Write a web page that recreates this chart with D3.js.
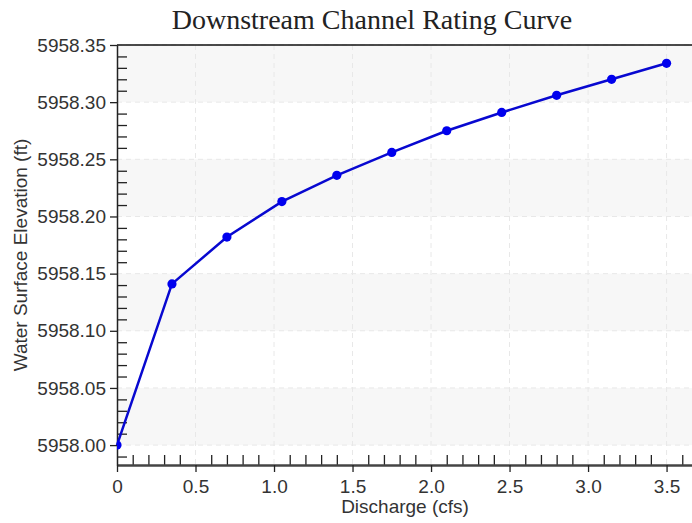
<!DOCTYPE html>
<html>
<head>
<meta charset="utf-8">
<script src="https://cdn.jsdelivr.net/npm/d3@7"></script>
<style>
  body { margin: 0; background: #fff; }
  svg { display: block; }
</style>
</head>
<body>
<svg id="chart" width="692" height="523"></svg>
<script>
// data
var discharge = [0, 0.35, 0.70, 1.05, 1.40, 1.75, 2.10, 2.45, 2.80, 3.15, 3.50];
var elevation = [5958.000, 5958.141, 5958.182, 5958.213, 5958.236, 5958.256,
                 5958.275, 5958.291, 5958.306, 5958.320, 5958.334];
var xTicks = [0, 0.5, 1.0, 1.5, 2.0, 2.5, 3.0, 3.5];
var yTicks = [5958.00, 5958.05, 5958.10, 5958.15, 5958.20, 5958.25, 5958.30, 5958.35];

var width = 692, height = 523;
var margin = {top: 45, right: 0, bottom: 58, left: 117};
var svg = d3.select('#chart');

var x = d3.scaleLinear().domain([0, 3.662]).range([margin.left, width - margin.right]);
var y = d3.scaleLinear().domain([5957.9826, 5958.35]).range([height - margin.bottom, margin.top]);

var plotW = width - margin.right - margin.left;
var plotH = height - margin.bottom - margin.top;
var font = 'Liberation Sans, Arial, sans-serif';

// alternating bands
var bands = [];
for (var i = 0; i < yTicks.length - 1; i++) {
    bands.push({lo: yTicks[i], hi: yTicks[i + 1], shade: i % 2 == 0});
}
svg.append('rect')
    .attr('x', margin.left).attr('y', margin.top)
    .attr('width', plotW).attr('height', plotH)
    .attr('fill', '#fff');
svg.selectAll('rect.band')
    .data(bands.filter(function(d) { return d.shade; }))
    .join('rect')
    .attr('class', 'band')
    .attr('x', margin.left)
    .attr('y', function(d) { return y(d.hi); })
    .attr('width', plotW)
    .attr('height', function(d) { return y(d.lo) - y(d.hi); })
    .attr('fill', '#f7f7f7');

// grid
svg.append('g')
    .selectAll('line')
    .data(xTicks.slice(1))
    .join('line')
    .attr('x1', function(d) { return x(d); })
    .attr('x2', function(d) { return x(d); })
    .attr('y1', margin.top).attr('y2', height - margin.bottom)
    .attr('stroke', '#e8e8e8').attr('stroke-dasharray', '5,4');
svg.append('g')
    .selectAll('line')
    .data(yTicks)
    .join('line')
    .attr('x1', margin.left).attr('x2', width - margin.right)
    .attr('y1', function(d) { return y(d); })
    .attr('y2', function(d) { return y(d); })
    .attr('stroke', '#e8e8e8').attr('stroke-dasharray', '5,4');

// minor ticks pointing inward
var xMinor = d3.range(1, 37).map(function(d) { return d / 10; })
    .filter(function(d) { return Math.round(d * 10) % 5 != 0; });
var yMinor = d3.range(-1, 36).map(function(d) { return 5958 + d / 100; })
    .filter(function(d) { return Math.round((d - 5958) * 100) % 5 != 0; });

svg.append('g')
    .attr('transform', 'translate(0,' + (height - margin.bottom) + ')')
    .call(d3.axisBottom(x).tickValues(xMinor).tickSize(-10).tickFormat(''))
    .call(function(g) { g.select('.domain').remove(); })
    .selectAll('line').attr('stroke', '#222').attr('stroke-width', 1.3);
svg.append('g')
    .attr('transform', 'translate(' + margin.left + ',0)')
    .call(d3.axisLeft(y).tickValues(yMinor).tickSize(-10).tickFormat(''))
    .call(function(g) { g.select('.domain').remove(); })
    .selectAll('line').attr('stroke', '#222').attr('stroke-width', 1.3);

// major axes
var xAxis = svg.append('g')
    .attr('transform', 'translate(0,' + (height - margin.bottom) + ')')
    .call(d3.axisBottom(x).tickValues(xTicks).tickSize(7).tickSizeOuter(0)
        .tickFormat(function(d) { return d == 0 ? '0' : d3.format('.1f')(d); }));
xAxis.select('.domain').attr('stroke', '#444').attr('stroke-width', 2.5);
xAxis.selectAll('.tick line').attr('stroke', '#222').attr('stroke-width', 1.3);
xAxis.selectAll('text')
    .attr('font-family', font)
    .attr('font-size', 19).attr('fill', '#333')
    .attr('y', 28).attr('dy', 0);

var yAxis = svg.append('g')
    .attr('transform', 'translate(' + margin.left + ',0)')
    .call(d3.axisLeft(y).tickValues(yTicks).tickSize(7).tickSizeOuter(0)
        .tickFormat(d3.format('.2f')));
yAxis.select('.domain').attr('stroke', '#222').attr('stroke-width', 1.5);
yAxis.selectAll('.tick line').attr('stroke', '#222').attr('stroke-width', 1.3);
yAxis.selectAll('text')
    .attr('font-family', font)
    .attr('font-size', 19).attr('fill', '#333').attr('x', -11);

// top border
svg.append('line')
    .attr('x1', margin.left).attr('x2', width - margin.right)
    .attr('y1', margin.top).attr('y2', margin.top)
    .attr('stroke', '#111').attr('stroke-width', 1.5);

// curve
var pts = discharge.map(function(d, i) { return {q: d, h: elevation[i]}; });

svg.append('clipPath').attr('id', 'clip')
    .append('rect')
    .attr('x', margin.left).attr('y', margin.top)
    .attr('width', plotW).attr('height', plotH);

var line = d3.line()
    .x(function(d) { return x(d.q); })
    .y(function(d) { return y(d.h); });

svg.append('path')
    .datum(pts)
    .attr('d', line)
    .attr('fill', 'none')
    .attr('stroke', '#0808d0')
    .attr('stroke-width', 2.5);

svg.append('g')
    .attr('clip-path', 'url(#clip)')
    .selectAll('circle')
    .data(pts)
    .join('circle')
    .attr('cx', function(d) { return x(d.q); })
    .attr('cy', function(d) { return y(d.h); })
    .attr('r', 4.6)
    .attr('fill', '#0000ee');

// titles
svg.append('text')
    .attr('x', 372).attr('y', 29)
    .attr('text-anchor', 'middle')
    .attr('font-family', 'Liberation Serif, Times New Roman, serif')
    .attr('font-size', 28).attr('fill', '#222')
    .text('Downstream Channel Rating Curve');

svg.append('text')
    .attr('x', 405).attr('y', 513)
    .attr('text-anchor', 'middle')
    .attr('font-family', font)
    .attr('font-size', 19).attr('fill', '#333')
    .text('Discharge (cfs)');

svg.append('text')
    .attr('transform', 'translate(27,' + (margin.top + plotH / 2) + ') rotate(-90)')
    .attr('text-anchor', 'middle')
    .attr('font-family', font)
    .attr('font-size', 19).attr('fill', '#333')
    .text('Water Surface Elevation (ft)');
</script>
</body>
</html>
